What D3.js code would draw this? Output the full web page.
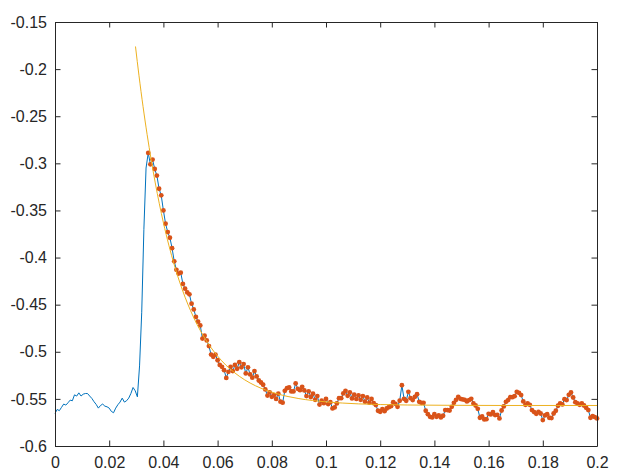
<!DOCTYPE html>
<html>
<head>
<meta charset="utf-8">
<script src="https://cdn.jsdelivr.net/npm/d3@7"></script>
<style>
  html, body { margin: 0; padding: 0; background: #ffffff; }
  svg { display: block; }
  .tick text { font-family: "Liberation Sans", Arial, Helvetica, sans-serif; font-size: 16px; fill: #262626; }
</style>
</head>
<body>
<svg id="chart" width="630" height="475"></svg>
<script>
// ---- data ----
const xStart = 0;          // first sample time
const xStep = 0.0008;      // sample spacing
const dotStartIndex = 43;  // first sample marked with a dot

const signal = [
  -0.5654, -0.5612, -0.5625, -0.5590, -0.5555, -0.5566, -0.5541, -0.5513, -0.5520, -0.5457,
  -0.5470, -0.5436, -0.5470, -0.5450, -0.5443, -0.5443, -0.5470, -0.5495, -0.5530, -0.5559,
  -0.5598, -0.5570, -0.5555, -0.5577, -0.5584, -0.5598, -0.5633, -0.5647, -0.5598, -0.5562,
  -0.5534, -0.5492, -0.5534, -0.5520, -0.5492, -0.5443, -0.5379, -0.5414, -0.5478, -0.5150,
  -0.4580, -0.3700, -0.3050, -0.2890, -0.3010, -0.2960, -0.3060, -0.3130, -0.3270, -0.3340,
  -0.3500, -0.3640, -0.3730, -0.3790, -0.3900, -0.4040, -0.4130, -0.4170, -0.4160, -0.4280,
  -0.4330, -0.4370, -0.4390, -0.4490, -0.4550, -0.4630, -0.4680, -0.4720, -0.4860, -0.4830,
  -0.4880, -0.4940, -0.5030, -0.5054, -0.5030, -0.5090, -0.5140, -0.5160, -0.5195, -0.5277,
  -0.5213, -0.5160, -0.5205, -0.5140, -0.5180, -0.5110, -0.5165, -0.5130, -0.5230, -0.5165,
  -0.5240, -0.5275, -0.5205, -0.5262, -0.5305, -0.5326, -0.5350, -0.5400, -0.5465, -0.5430,
  -0.5478, -0.5460, -0.5500, -0.5445, -0.5530, -0.5540, -0.5414, -0.5386, -0.5379, -0.5421,
  -0.5421, -0.5336, -0.5393, -0.5407, -0.5372, -0.5410, -0.5470, -0.5420, -0.5480, -0.5445,
  -0.5510, -0.5470, -0.5560, -0.5520, -0.5545, -0.5500, -0.5555, -0.5535, -0.5601, -0.5591,
  -0.5548, -0.5492, -0.5492, -0.5442, -0.5414, -0.5467, -0.5430, -0.5495, -0.5455, -0.5500,
  -0.5462, -0.5510, -0.5470, -0.5530, -0.5485, -0.5540, -0.5500, -0.5545, -0.5566, -0.5626,
  -0.5637, -0.5609, -0.5630, -0.5602, -0.5588, -0.5577, -0.5535, -0.5552, -0.5584, -0.5520,
  -0.5355, -0.5499, -0.5520, -0.5425, -0.5492, -0.5513, -0.5478, -0.5450, -0.5531, -0.5542,
  -0.5542, -0.5626, -0.5662, -0.5690, -0.5697, -0.5662, -0.5690, -0.5676, -0.5697, -0.5679,
  -0.5619, -0.5619, -0.5623, -0.5584, -0.5542, -0.5510, -0.5478, -0.5499, -0.5506, -0.5510,
  -0.5527, -0.5513, -0.5499, -0.5549, -0.5570, -0.5605, -0.5700, -0.5686, -0.5718, -0.5715,
  -0.5658, -0.5665, -0.5640, -0.5672, -0.5669, -0.5707, -0.5623, -0.5580, -0.5531, -0.5513,
  -0.5482, -0.5482, -0.5471, -0.5425, -0.5436, -0.5460, -0.5527, -0.5563, -0.5549, -0.5563,
  -0.5619, -0.5640, -0.5658, -0.5637, -0.5655, -0.5725, -0.5676, -0.5662, -0.5700, -0.5704,
  -0.5655, -0.5626, -0.5573, -0.5549, -0.5559, -0.5503, -0.5513, -0.5457, -0.5432, -0.5485,
  -0.5535, -0.5549, -0.5563, -0.5549, -0.5570, -0.5595, -0.5619, -0.5700, -0.5683, -0.5693,
  -0.5707
];

const fitX = [0.0297, 0.031, 0.0325, 0.034, 0.0355, 0.037, 0.0385, 0.040, 0.042, 0.044,
              0.046, 0.048, 0.050, 0.0525, 0.055, 0.0575, 0.060, 0.063, 0.066, 0.070,
              0.074, 0.078, 0.082, 0.086, 0.090, 0.095, 0.100, 0.106, 0.112, 0.120,
              0.130, 0.145, 0.165, 0.185, 0.200];
const fitY = [-0.1760, -0.2071, -0.2399, -0.2695, -0.2964, -0.3208, -0.3429, -0.3630, -0.3868, -0.4077,
              -0.4260, -0.4421, -0.4562, -0.4714, -0.4843, -0.4953, -0.5046, -0.5140, -0.5216, -0.5298,
              -0.5361, -0.5409, -0.5446, -0.5475, -0.5497, -0.5517, -0.5532, -0.5544, -0.5553, -0.5560,
              -0.5565, -0.5568, -0.5570, -0.5570, -0.5570];

const xTicks = [0, 0.02, 0.04, 0.06, 0.08, 0.1, 0.12, 0.14, 0.16, 0.18, 0.2];
const xTickLabels = ["0", "0.02", "0.04", "0.06", "0.08", "0.1", "0.12", "0.14", "0.16", "0.18", "0.2"];
const yTicks = [-0.6, -0.55, -0.5, -0.45, -0.4, -0.35, -0.3, -0.25, -0.2, -0.15];
const yTickLabels = ["-0.6", "-0.55", "-0.5", "-0.45", "-0.4", "-0.35", "-0.3", "-0.25", "-0.2", "-0.15"];

// ---- drawing ----
const W = 630, H = 475;
const margin = { left: 55, right: 33, top: 22, bottom: 29 };
const svg = d3.select("#chart");
const x = d3.scaleLinear().domain([0, 0.2]).range([margin.left, W - margin.right]);
const y = d3.scaleLinear().domain([-0.6, -0.15]).range([H - margin.bottom, margin.top]);

const axisColor = "#262626";
const pts = signal.map((v, i) => ({ x: xStart + i * xStep, y: v }));
const dots = pts.slice(dotStartIndex);
const fit = fitX.map((fx, i) => ({ x: fx, y: fitY[i] }));

// blue signal
svg.append("path")
  .datum(pts)
  .attr("fill", "none")
  .attr("stroke", "#0072BD")
  .attr("stroke-width", 1)
  .attr("stroke-linejoin", "round")
  .attr("d", d3.line().x(d => x(d.x)).y(d => y(d.y)));

// orange dots
svg.append("g").selectAll("circle")
  .data(dots)
  .join("circle")
  .attr("cx", d => x(d.x))
  .attr("cy", d => y(d.y))
  .attr("r", 2.4)
  .attr("fill", "#D95319");

// yellow fit
svg.append("path")
  .datum(fit)
  .attr("fill", "none")
  .attr("stroke", "#EDB120")
  .attr("stroke-width", 1)
  .attr("d", d3.line().curve(d3.curveMonotoneX).x(d => x(d.x)).y(d => y(d.y)));

// axes
const tickLen = 5.5;
function styleAxis(g) {
  g.selectAll("path.domain").attr("stroke", axisColor).attr("stroke-width", 1);
  g.selectAll(".tick line").attr("stroke", axisColor).attr("stroke-width", 1);
  g.attr("font-family", null).attr("font-size", null);
}

svg.append("g")
  .attr("transform", `translate(0,${H - margin.bottom})`)
  .call(d3.axisBottom(x).tickValues(xTicks).tickFormat((d, i) => xTickLabels[i])
        .tickSizeInner(-tickLen).tickSizeOuter(0).tickPadding(10.5))
  .call(styleAxis);

svg.append("g")
  .attr("transform", `translate(0,${margin.top})`)
  .call(d3.axisTop(x).tickValues(xTicks).tickFormat("")
        .tickSizeInner(-tickLen).tickSizeOuter(0))
  .call(styleAxis);

svg.append("g")
  .attr("transform", `translate(${margin.left},0)`)
  .call(d3.axisLeft(y).tickValues(yTicks).tickFormat((d, i) => yTickLabels[i])
        .tickSizeInner(-tickLen).tickSizeOuter(0).tickPadding(8))
  .call(styleAxis);

svg.append("g")
  .attr("transform", `translate(${W - margin.right},0)`)
  .call(d3.axisRight(y).tickValues(yTicks).tickFormat("")
        .tickSizeInner(-tickLen).tickSizeOuter(0))
  .call(styleAxis);
</script>
</body>
</html>
